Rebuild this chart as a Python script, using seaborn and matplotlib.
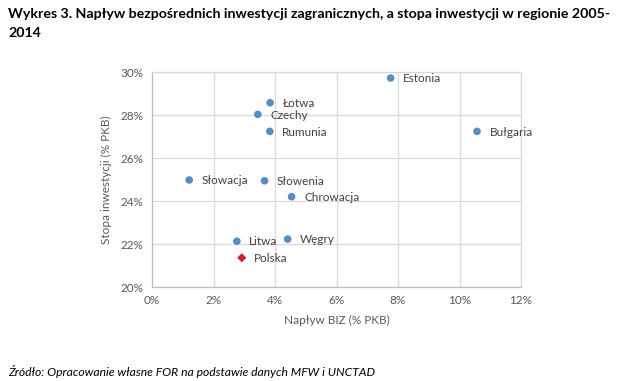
import matplotlib
matplotlib.use("Agg")
import matplotlib.pyplot as plt
import pandas as pd
import seaborn as sns
from matplotlib.ticker import PercentFormatter

# Dane (% PKB)
kraje = ['Estonia', 'Łotwa', 'Czechy', 'Rumunia', 'Bułgaria', 'Słowacja',
         'Słowenia', 'Chrowacja', 'Litwa', 'Węgry', 'Polska']
naplyw_biz = [7.76, 3.84, 3.44, 3.83, 10.57, 1.21, 3.66, 4.54, 2.76, 4.41, 2.92]
stopa_inw = [29.72, 28.57, 28.03, 27.24, 27.24, 24.98, 24.94, 24.20, 22.13, 22.23, 21.36]

df = pd.DataFrame({'kraj': kraje, 'biz': naplyw_biz, 'inw': stopa_inw})
df_pl = df[df['kraj'] == 'Polska']
df_reszta = df[df['kraj'] != 'Polska']

sns.set_style('white')
plt.rcParams['font.family'] = ['Lato', 'DejaVu Sans']

fig = plt.figure(figsize=(6.25, 3.81), dpi=100)
ax = fig.add_axes([0.2432, 0.2467, 0.5904, 0.5643])

sns.scatterplot(data=df_reszta, x='biz', y='inw', ax=ax, color='#5B8CC0',
                s=30, edgecolor='none', zorder=3)
sns.scatterplot(data=df_pl, x='biz', y='inw', ax=ax, color='#C8242B',
                marker='D', s=22, edgecolor='none', zorder=3)

for _, r in df.iterrows():
    ax.annotate(r['kraj'], (r['biz'], r['inw']), xytext=(9, -0.5),
                textcoords='offset points', va='center', ha='left',
                fontsize=8.5, color='#404040')

ax.set_xlim(0, 12)
ax.set_ylim(20, 30)
ax.set_xticks(range(0, 13, 2))
ax.set_yticks(range(20, 31, 2))
ax.xaxis.set_major_formatter(PercentFormatter(decimals=0))
ax.yaxis.set_major_formatter(PercentFormatter(decimals=0))
ax.grid(True, color='#D9D9D9', linewidth=0.9)
ax.set_axisbelow(True)
for s in ax.spines.values():
    s.set_color('#D9D9D9')
    s.set_linewidth(0.9)
ax.spines['left'].set_color('#BFBFBF')
ax.spines['bottom'].set_color('#BFBFBF')
ax.tick_params(colors='#595959', labelsize=8.5, length=0, pad=6)
ax.set_xlabel('Napływ BIZ (% PKB)', fontsize=8.5, color='#595959', labelpad=6)
ax.set_ylabel('Stopa inwestycji (% PKB)', fontsize=8.5, color='#595959', labelpad=6)

fig.text(0.013, 0.963, 'Wykres 3. Napływ bezpośrednich inwestycji zagranicznych, '
         'a stopa inwestycji w regionie 2005-', fontsize=10.2, fontweight='bold',
         color='black', va='center', ha='left')
fig.text(0.013, 0.913, '2014', fontsize=10.2, fontweight='bold',
         color='black', va='center', ha='left')
fig.text(0.013, 0.026, 'Źródło: Opracowanie własne FOR na podstawie danych MFW i UNCTAD',
         fontsize=8.7, style='italic', color='black', va='center', ha='left')

fig.savefig('out.png', dpi=100, facecolor='white')
